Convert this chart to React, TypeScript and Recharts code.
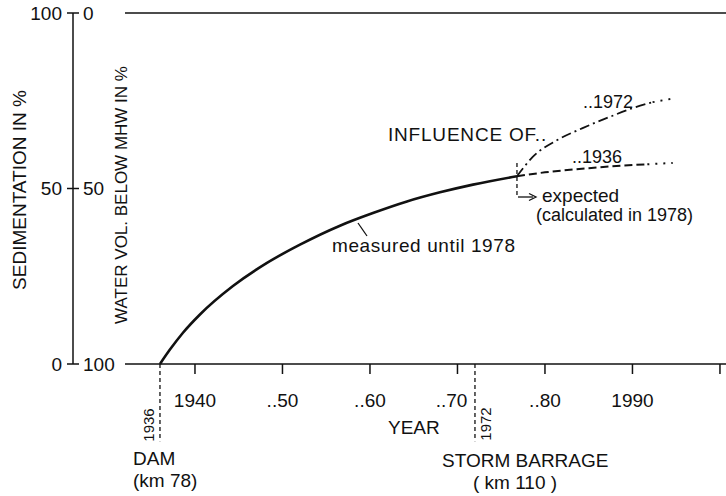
import React from 'react';
import { ComposedChart, Line, XAxis, YAxis, ReferenceLine } from 'recharts';

// ---- data ----
const measuredYears = [1936, 1937.14, 1938.63, 1940.57, 1944.34, 1948.23, 1952.0, 1956.57, 1960.34, 1964.23, 1968.0, 1971.77, 1976.8];
const measuredValues = [0, 4.1, 8.9, 14.1, 22.2, 28.8, 34.0, 39.4, 43.0, 46.3, 48.9, 51.1, 53.5];

const exp1936Years = [1976.8, 1980, 1985, 1990, 1991.7];
const exp1936Values = [53.5, 54.6, 55.8, 56.7, 56.9];
const tail1936Years = [1991.7, 1994.6];
const tail1936Values = [56.9, 57.3];

const exp1972Years = [1976.8, 1978.6, 1981.4, 1984.3, 1987.4, 1990, 1992.3];
const exp1972Values = [53.5, 59, 63.8, 67.2, 70.4, 72.9, 74.6];
const tail1972Years = [1992.3, 1995.0];
const tail1972Values = [74.6, 75.8];

const xTicks = [1940, 1950, 1960, 1970, 1980, 1990, 2000];
const xTickLabels = ['1940', '..50', '..60', '..70', '..80', '1990', ''];
const yTicks = [0, 50, 100];
const waterTickLabels = ['100', '50', '0'];
const eventYears = [1936, 1972];
const branchYear = 1976.8;

const toPoints = (years: number[], values: number[]) => years.map((year, i) => ({ year, v: values[i] }));

const measured = toPoints(measuredYears, measuredValues);
const exp1936 = toPoints(exp1936Years, exp1936Values);
const tail1936 = toPoints(tail1936Years, tail1936Values);
const exp1972 = toPoints(exp1972Years, exp1972Values);
const tail1972 = toPoints(tail1972Years, tail1972Values);

const INK = '#111';
const FONT = '"Liberation Sans", Arial, sans-serif';

const XTick = (props: any) => {
  const { x, y, payload } = props;
  const label = xTickLabels[xTicks.indexOf(payload.value)] ?? '';
  const isSeventy = label === '..70';
  return (
    <text
      x={isSeventy ? x + 10 : x}
      y={y + 33}
      textAnchor={isSeventy ? 'end' : 'middle'}
      fontSize={19}
      fill={INK}
      fontFamily={FONT}
    >
      {label}
    </text>
  );
};

const YTick = (props: any) => {
  const { x, y, payload } = props;
  const i = yTicks.indexOf(payload.value);
  return (
    <g>
      <text x={x - 5} y={y} textAnchor="end" dominantBaseline="central" fontSize={19} fill={INK} fontFamily={FONT}>
        {payload.value}
      </text>
      <line x1={x + 6} x2={x + 12} y1={y} y2={y} stroke={INK} strokeWidth={1.5} />
      <text x={x + 16} y={y} textAnchor="start" dominantBaseline="central" fontSize={19} fill={INK} fontFamily={FONT}>
        {waterTickLabels[i]}
      </text>
    </g>
  );
};

export default function App() {
  return (
    <div style={{ position: 'absolute', left: 0, top: 0, width: 726, height: 496, background: '#fff', fontFamily: FONT }}>
      <ComposedChart width={726} height={496} margin={{ top: 13, right: 0, bottom: 0, left: 0 }}>
        <XAxis
          type="number"
          dataKey="year"
          domain={[1926.06, 2000.69]}
          allowDataOverflow
          ticks={xTicks}
          interval={0}
          axisLine={false}
          tickLine={{ stroke: INK, strokeWidth: 1.5 }}
          tickSize={10}
          tickMargin={0}
          height={132}
          tick={<XTick />}
        />
        <YAxis
          type="number"
          domain={[0, 100]}
          ticks={yTicks}
          interval={0}
          width={73}
          axisLine={{ stroke: INK, strokeWidth: 1.5 }}
          tickLine={{ stroke: INK, strokeWidth: 1.5 }}
          tickSize={6}
          tickMargin={0}
          tick={<YTick />}
        />
        <ReferenceLine segment={[{ x: 1932, y: 100 }, { x: 2000.69, y: 100 }]} stroke={INK} strokeWidth={1.5} ifOverflow="visible" />
        <ReferenceLine segment={[{ x: 1932, y: 0 }, { x: 2000.69, y: 0 }]} stroke={INK} strokeWidth={1.5} ifOverflow="visible" />
        {eventYears.map((yr) => (
          <ReferenceLine
            key={yr}
            segment={[{ x: yr, y: 0 }, { x: yr, y: -22 }]}
            stroke={INK}
            strokeWidth={1.3}
            strokeDasharray="4 3"
            ifOverflow="visible"
          />
        ))}
        <ReferenceLine
          segment={[{ x: branchYear, y: 57.3 }, { x: branchYear, y: 47.6 }]}
          stroke={INK}
          strokeWidth={1.3}
          strokeDasharray="4 3"
          ifOverflow="visible"
        />
        <Line data={measured} dataKey="v" type="monotone" stroke={INK} strokeWidth={2.6} dot={false} isAnimationActive={false} />
        <Line data={exp1936} dataKey="v" type="monotone" stroke={INK} strokeWidth={2} strokeDasharray="8 4" dot={false} isAnimationActive={false} />
        <Line data={tail1936} dataKey="v" type="linear" stroke={INK} strokeWidth={2} strokeDasharray="2 6" dot={false} isAnimationActive={false} />
        <Line data={exp1972} dataKey="v" type="monotone" stroke={INK} strokeWidth={1.8} strokeDasharray="10 4 2 4" dot={false} isAnimationActive={false} />
        <Line data={tail1972} dataKey="v" type="linear" stroke={INK} strokeWidth={1.8} strokeDasharray="2 6" dot={false} isAnimationActive={false} />
      </ComposedChart>
      <svg width={726} height={496} style={{ position: 'absolute', left: 0, top: 0, pointerEvents: 'none' }} fontFamily={FONT} fill={INK}>
        <text transform="translate(19,190) rotate(-90)" textAnchor="middle" dominantBaseline="central" fontSize={19}>SEDIMENTATION IN %</text>
        <text transform="translate(121,195) rotate(-90)" textAnchor="middle" dominantBaseline="central" fontSize={17}>WATER VOL. BELOW MHW IN %</text>
        <text x={388} y={434} fontSize={19}>YEAR</text>
        <text x={133} y={465} fontSize={19}>DAM</text>
        <text x={133} y={487} fontSize={19}>(km 78)</text>
        <text transform="translate(148,425) rotate(-90)" textAnchor="middle" dominantBaseline="central" fontSize={15}>1936</text>
        <text transform="translate(485,424) rotate(-90)" textAnchor="middle" dominantBaseline="central" fontSize={15}>1972</text>
        <text x={442} y={467} fontSize={19}>STORM BARRAGE</text>
        <text x={473} y={489} fontSize={19}>( km 110 )</text>
        <text x={388} y={141} fontSize={19} letterSpacing={0.8}>INFLUENCE OF..</text>
        <text x={583} y={108} fontSize={18}>..1972</text>
        <text x={572} y={163} fontSize={18}>..1936</text>
        <text x={542} y={202} fontSize={19}>expected</text>
        <text x={536} y={221} fontSize={18}>(calculated in 1978)</text>
        <text x={332} y={252} fontSize={19} letterSpacing={0.6}>measured until 1978</text>
        <line x1={358} y1={223} x2={367} y2={236} stroke={INK} strokeWidth={1.3} />
        <path d="M518 197 H533" stroke={INK} strokeWidth={1.3} fill="none" />
        <path d="M529 193.5 L536 197 L529 200.5" stroke={INK} strokeWidth={1.3} fill="none" />
      </svg>
    </div>
  );
}
